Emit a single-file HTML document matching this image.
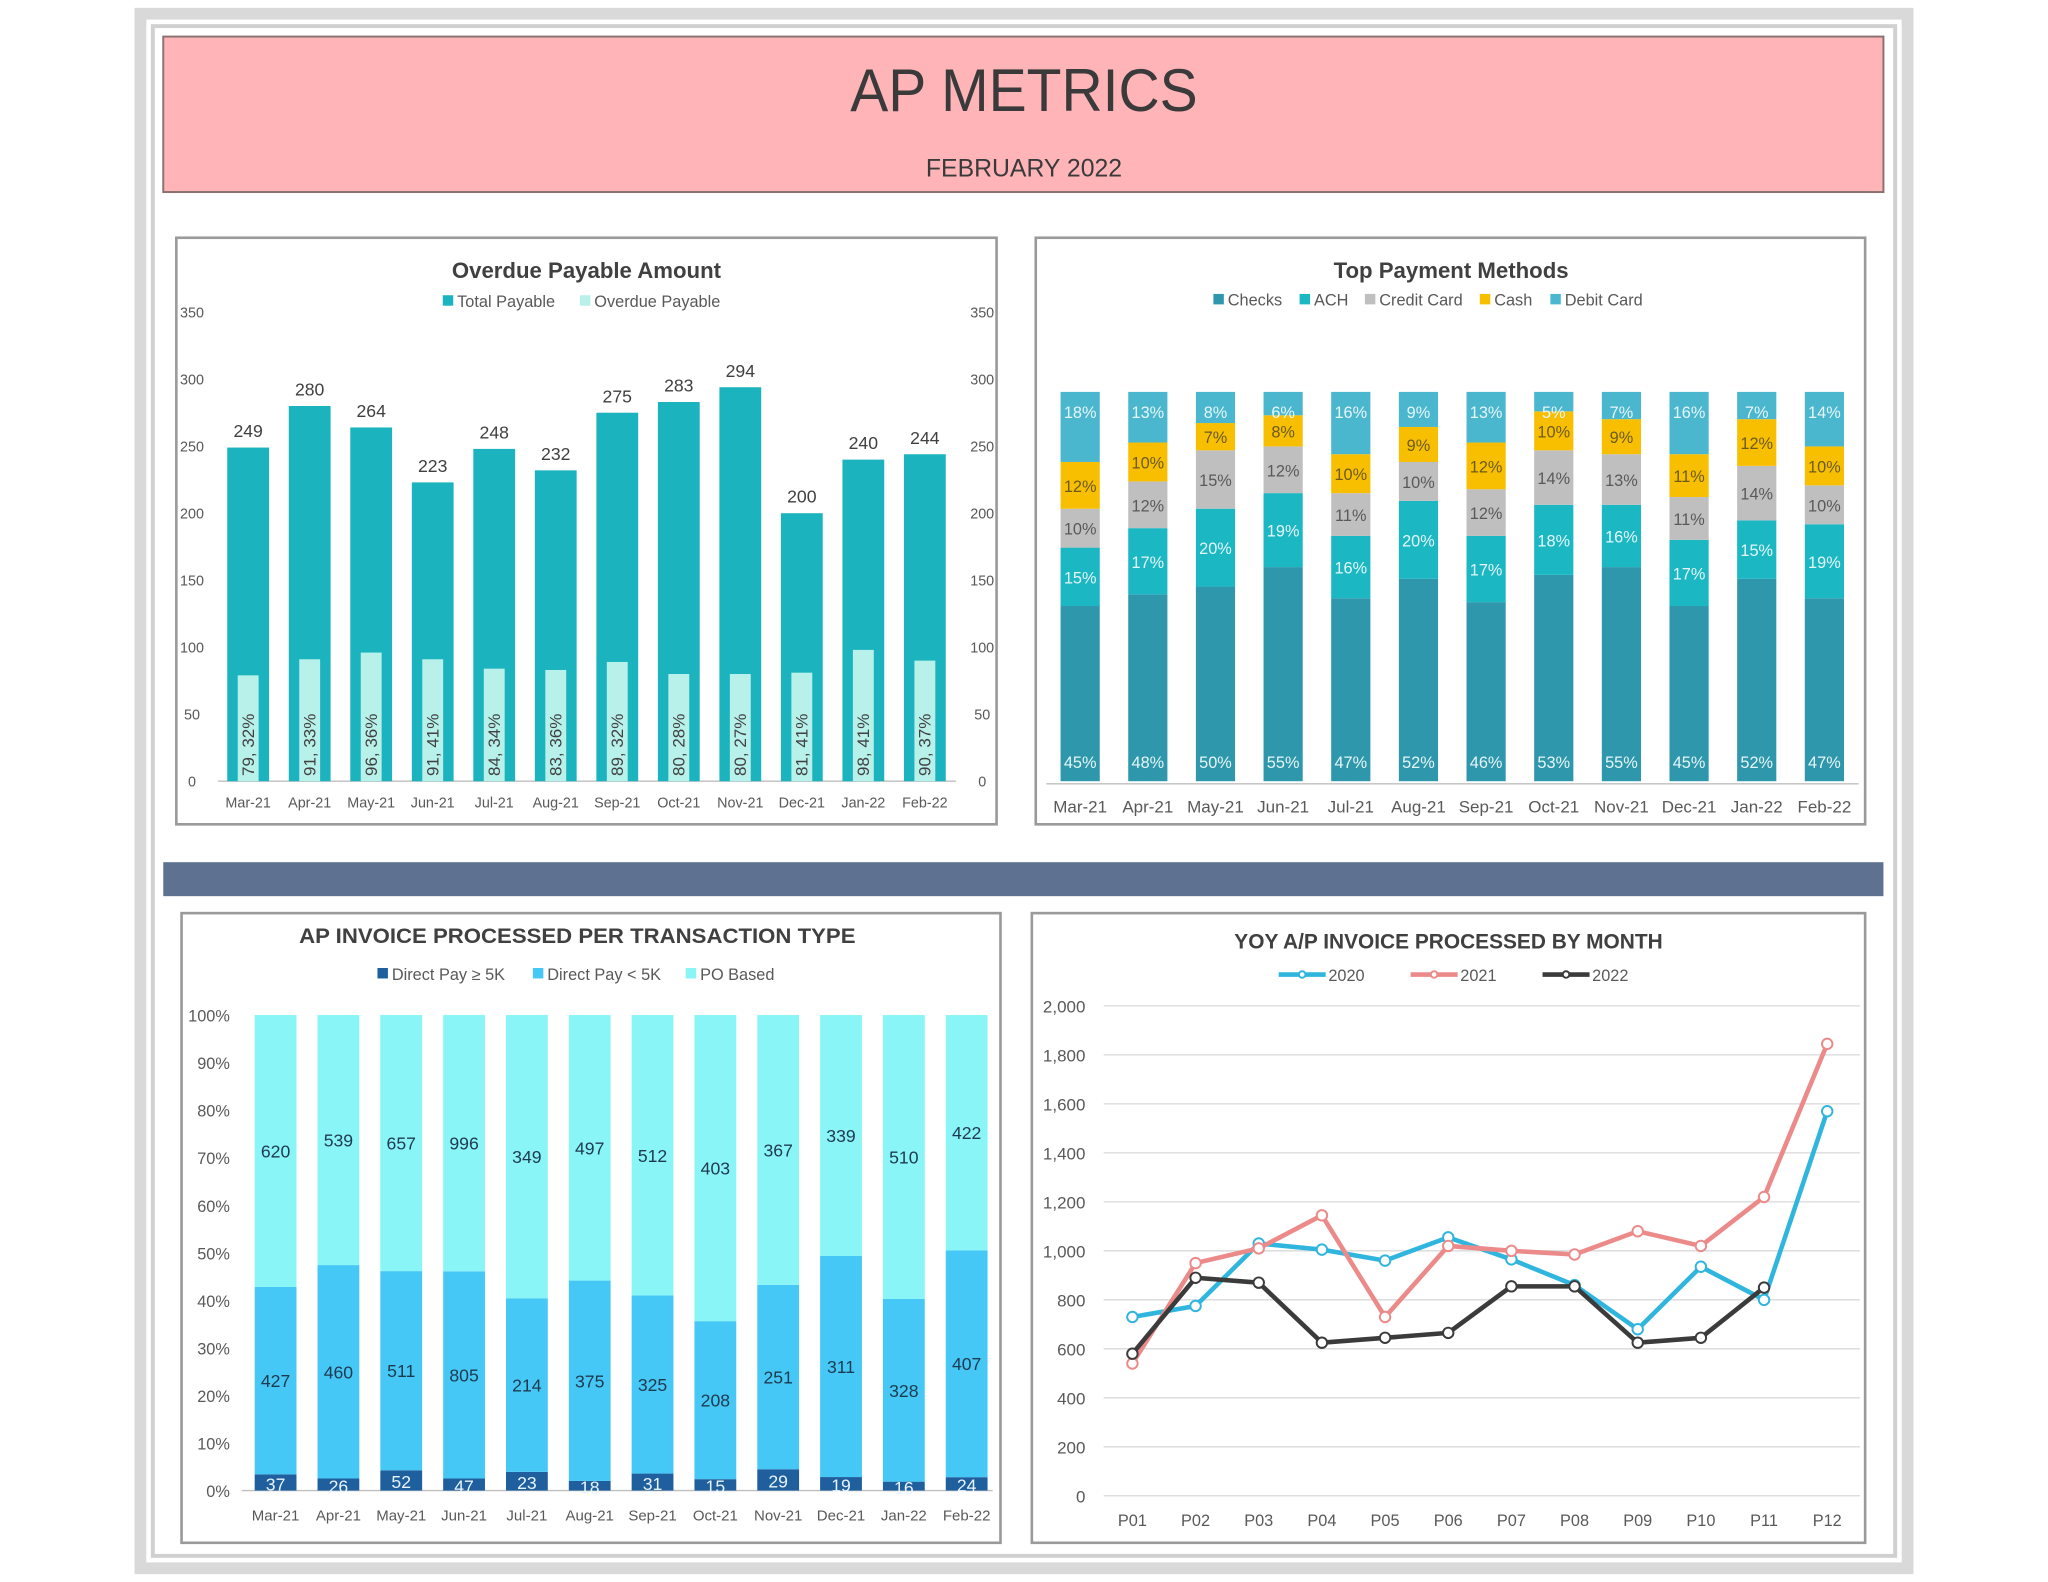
<!DOCTYPE html>
<html><head><meta charset="utf-8"><title>AP Metrics</title>
<style>
html,body{margin:0;padding:0;background:#fff;}
svg{display:block;font-family:"Liberation Sans",sans-serif;}
</style></head>
<body>
<svg id="root" width="2048" height="1582" viewBox="0 0 1568 1211" preserveAspectRatio="none" xmlns="http://www.w3.org/2000/svg">
  <rect x="103" y="6" width="1362" height="1199" fill="#d9d9d9"/>
  <rect x="112" y="15" width="1344" height="1181" fill="#ffffff"/>
  <rect x="117" y="20" width="1334" height="1171" fill="#ffffff" stroke="#d0d0d0" stroke-width="3"/>
  <rect x="125" y="28" width="1317" height="119" fill="#ffb5b8" stroke="#8a7070" stroke-width="1.5"/>
  <text x="784" y="85" text-anchor="middle" font-size="46" fill="#3a3a3a" textLength="266" lengthAdjust="spacingAndGlyphs">AP METRICS</text>
  <text x="784" y="135" text-anchor="middle" font-size="19" fill="#3a3a3a">FEBRUARY 2022</text>
  <rect x="125" y="660" width="1317" height="26" fill="#5e7190"/>

  <rect x="135" y="182" width="628" height="449" fill="#fff" stroke="#9a9a9a" stroke-width="2"/>
  <rect x="793" y="182" width="635" height="449" fill="#fff" stroke="#9a9a9a" stroke-width="2"/>
  <rect x="139" y="699" width="627" height="482" fill="#fff" stroke="#9a9a9a" stroke-width="2"/>
  <rect x="790" y="699" width="638" height="482" fill="#fff" stroke="#9a9a9a" stroke-width="2"/>

  <g id="c1"></g><g id="c2"></g><g id="c3"></g><g id="c4"></g>
</svg>
<script>
const months = ["Mar-21","Apr-21","May-21","Jun-21","Jul-21","Aug-21","Sep-21","Oct-21","Nov-21","Dec-21","Jan-22","Feb-22"];
// Chart 1
const totalPayable = [249,280,264,223,248,232,275,283,294,200,240,244];
const overduePayable = [79,91,96,91,84,83,89,80,80,81,98,90];
const overduePct = [32,33,36,41,34,36,32,28,27,41,41,37];
const c1Ticks = [0,50,100,150,200,250,300,350];
// Chart 2
const checks = [45,48,50,55,47,52,46,53,55,45,52,47];
const ach = [15,17,20,19,16,20,17,18,16,17,15,19];
const creditCard = [10,12,15,12,11,10,12,14,13,11,14,10];
const cash = [12,10,7,8,10,9,12,10,9,11,12,10];
const debitCard = [18,13,8,6,16,9,13,5,7,16,7,14];
// Chart 3
const directPayBig = [37,26,52,47,23,18,31,15,29,19,16,24];
const directPaySmall = [427,460,511,805,214,375,325,208,251,311,328,407];
const poBased = [620,539,657,996,349,497,512,403,367,339,510,422];
const c3Ticks = [0,10,20,30,40,50,60,70,80,90,100];
// Chart 4
const periods = ["P01","P02","P03","P04","P05","P06","P07","P08","P09","P10","P11","P12"];
const y2020 = [730,775,1030,1005,960,1055,965,860,680,935,800,1570];
const y2021 = [540,950,1010,1145,730,1020,1000,985,1080,1020,1220,1845];
const y2022 = [580,890,870,625,645,665,855,855,625,645,850];
const c4Ticks = [0,200,400,600,800,1000,1200,1400,1600,1800,2000];

const NS = "http://www.w3.org/2000/svg";
function el(parent, tag, attrs, text) {
  const e = document.createElementNS(NS, tag);
  for (const k in attrs) e.setAttribute(k, attrs[k]);
  if (text !== undefined) e.textContent = text;
  parent.appendChild(e);
  return e;
}
function legend(g, items, y) {
  items.forEach(it => {
    const r = el(g, "rect", {x: it.x, y: y - 9, width: 8, height: 8, fill: it.c});
    
    
    const t = el(g, "text", {x: it.x + 11, y: y, "font-size": 12.5, fill: "#595959"}, it.t);
    
    
  });
}

// ---------- Chart 1 ----------
(function(){
  const g = document.getElementById("c1");
  const y = v => 598 - v * 359 / 350;
  const x = i => 190 + i * 47.1;
  let t = el(g, "text", {x: 449, y: 213, "text-anchor": "middle", "font-size": 17, "font-weight": "bold", fill: "#404040"}, "Overdue Payable Amount");
  
  
  legend(g, [{x: 339, c: "#1bb3bd", t: "Total Payable"}, {x: 444, c: "#b8f0ea", t: "Overdue Payable"}], 235);
  c1Ticks.forEach(v => {
    const a = el(g, "text", {x: 147, y: y(v) + 4, "text-anchor": "middle", "font-size": 11, fill: "#595959"}, v);
    
    
    const b = el(g, "text", {x: 752, y: y(v) + 4, "text-anchor": "middle", "font-size": 11, fill: "#595959"}, v);
    
    
  });
  const ax = el(g, "line", {x1: 167, x2: 732, y1: 598, y2: 598, stroke: "#bfbfbf", "stroke-width": 1});
  
  
  months.forEach((m, i) => {
    const r = el(g, "rect", {x: x(i) - 16, y: y(totalPayable[i]), width: 32, height: 598 - y(totalPayable[i]), fill: "#1bb3bd"});
    
    
    const o = el(g, "rect", {x: x(i) - 8, y: y(overduePayable[i]), width: 16, height: 598 - y(overduePayable[i]), fill: "#b8f0ea"});
    
    
    const vl = el(g, "text", {x: x(i), y: y(totalPayable[i]) - 8, "text-anchor": "middle", "font-size": 13.5, fill: "#404040"}, totalPayable[i]);
    
    
    const ol = el(g, "text", {x: 0, y: 0, transform: `translate(${x(i) + 4.5},594) rotate(-90)`, "font-size": 13, fill: "#404040"}, overduePayable[i] + ", " + overduePct[i] + "%");
    
    
    const xl = el(g, "text", {x: x(i), y: 618, "text-anchor": "middle", "font-size": 11, fill: "#595959"}, m);
    
    
  });
})();

// ---------- Chart 2 ----------
(function(){
  const g = document.getElementById("c2");
  const x = i => 827 + i * 51.8;
  let t = el(g, "text", {x: 1111, y: 213, "text-anchor": "middle", "font-size": 17, "font-weight": "bold", fill: "#404040"}, "Top Payment Methods");
  
  
  legend(g, [{x: 929, c: "#2e97ac", t: "Checks"}, {x: 995, c: "#1bb8c4", t: "ACH"}, {x: 1045, c: "#bfbfbf", t: "Credit Card"}, {x: 1133, c: "#f7bf00", t: "Cash"}, {x: 1187, c: "#4bb7cf", t: "Debit Card"}], 234);
  const ax = el(g, "line", {x1: 801, x2: 1423, y1: 600, y2: 600, stroke: "#bfbfbf", "stroke-width": 1});
  
  
  const series = [
    {d: checks, c: "#2e97ac", n: "checks-segment"},
    {d: ach, c: "#1bb8c4", n: "ach-segment"},
    {d: creditCard, c: "#bfbfbf", n: "credit-card-segment"},
    {d: cash, c: "#f7bf00", n: "cash-segment"},
    {d: debitCard, c: "#4bb7cf", n: "debit-card-segment"}
  ];
  months.forEach((m, i) => {
    const total = series.reduce((s, se) => s + se.d[i], 0);
    const sc = v => v / total * 298;
    let cum = 0;
    series.forEach((se, k) => {
      const h = sc(se.d[i]);
      const top = 598 - sc(cum) - h;
      const r = el(g, "rect", {x: x(i) - 15, y: top, width: 30, height: h, fill: se.c});
      
      
      const ly = k === 0 ? 588 : (k === 4 ? top + 20 : top + h / 2 + 5);
      const lab = el(g, "text", {x: x(i), y: ly, "text-anchor": "middle", "font-size": 12.5, fill: k === 2 ? "#595959" : (k === 3 ? "#6b5a20" : "#e6f6f8")}, se.d[i] + "%");
      
      
      cum += se.d[i];
    });
    const xl = el(g, "text", {x: x(i), y: 622, "text-anchor": "middle", "font-size": 13, fill: "#595959"}, m);
    
    
  });
})();

// ---------- Chart 3 ----------
(function(){
  const g = document.getElementById("c3");
  const y = p => 1141 - p * 3.64;
  const x = i => 211 + i * 48.1;
  let t = el(g, "text", {x: 442, y: 722, "text-anchor": "middle", "font-size": 16.5, "font-weight": "bold", fill: "#404040", textLength: "426", lengthAdjust: "spacingAndGlyphs"}, "AP INVOICE PROCESSED PER TRANSACTION TYPE");
  
  
  legend(g, [{x: 289, c: "#1f5f9e", t: "Direct Pay ≥ 5K"}, {x: 408, c: "#45c8f5", t: "Direct Pay < 5K"}, {x: 525, c: "#8af5f7", t: "PO Based"}], 750);
  c3Ticks.forEach(v => {
    const a = el(g, "text", {x: 176, y: y(v) + 5, "text-anchor": "end", "font-size": 12.5, fill: "#595959"}, v + "%");
    
    
  });
  const ax = el(g, "line", {x1: 185, x2: 760, y1: 1141, y2: 1141, stroke: "#bfbfbf", "stroke-width": 1});
  
  
  const series = [
    {d: directPayBig, c: "#1f5f9e", n: "direct-pay-5k-plus-segment", tc: "#e8f4ff"},
    {d: directPaySmall, c: "#45c8f5", n: "direct-pay-under-5k-segment", tc: "#1f3a50"},
    {d: poBased, c: "#8af5f7", n: "po-based-segment", tc: "#1f3a50"}
  ];
  months.forEach((m, i) => {
    const total = series.reduce((s, se) => s + se.d[i], 0);
    let cum = 0;
    series.forEach((se, k) => {
      const p0 = cum / total * 100, p1 = (cum + se.d[i]) / total * 100;
      const r = el(g, "rect", {x: x(i) - 16, y: y(p1), width: 32, height: y(p0) - y(p1), fill: se.c});
      
      
      const lab = el(g, "text", {x: x(i), y: (y(p0) + y(p1)) / 2 + (k === 0 ? 6 : 5), "text-anchor": "middle", "font-size": 13.5, fill: se.tc}, se.d[i]);
      
      
      cum += se.d[i];
    });
    const xl = el(g, "text", {x: x(i), y: 1164, "text-anchor": "middle", "font-size": 11.5, fill: "#595959"}, m);
    
    
  });
})();

// ---------- Chart 4 ----------
(function(){
  const g = document.getElementById("c4");
  const y = v => 1145 - v * 0.1875;
  const x = i => 867 + i * 48.36;
  let t = el(g, "text", {x: 1109, y: 726, "text-anchor": "middle", "font-size": 16.5, "font-weight": "bold", fill: "#404040", textLength: "328", lengthAdjust: "spacingAndGlyphs"}, "YOY A/P INVOICE PROCESSED BY MONTH");
  
  
  const series = [
    {d: y2020, c: "#2fb5de", n: "line-2020", t: "2020", lx: 979},
    {d: y2021, c: "#ec8a8a", n: "line-2021", t: "2021", lx: 1080},
    {d: y2022, c: "#3b3b3b", n: "line-2022", t: "2022", lx: 1181}
  ];
  series.forEach(se => {
    const ll = el(g, "line", {x1: se.lx, x2: se.lx + 36, y1: 746, y2: 746, stroke: se.c, "stroke-width": 3.5});
    
    
    const lc = el(g, "circle", {cx: se.lx + 18, cy: 746, r: 2.5, fill: "#fff", stroke: se.c, "stroke-width": 1.5});
    
    
    const lt = el(g, "text", {x: se.lx + 38, y: 751, "font-size": 12.5, fill: "#595959"}, se.t);
    
    
  });
  c4Ticks.forEach(v => {
    const gl = el(g, "line", {x1: 845, x2: 1424, y1: y(v), y2: y(v), stroke: "#d9d9d9", "stroke-width": 1});
    
    
    const a = el(g, "text", {x: 831, y: y(v) + 5, "text-anchor": "end", "font-size": 13, fill: "#595959"}, v.toLocaleString("en-US"));
    
    
  });
  periods.forEach((p, i) => {
    const xl = el(g, "text", {x: x(i), y: 1168, "text-anchor": "middle", "font-size": 12.5, fill: "#595959"}, p);
    
    
  });
  series.forEach(se => {
    const pts = se.d.map((v, i) => x(i) + "," + y(v)).join(" ");
    const pl = el(g, "polyline", {points: pts, fill: "none", stroke: se.c, "stroke-width": 3.5, "stroke-linejoin": "round"});
    
    
    se.d.forEach((v, i) => {
      const c = el(g, "circle", {cx: x(i), cy: y(v), r: 4, fill: "#fff", stroke: se.c, "stroke-width": 1.5});
      
      
    });
  });
})();
</script>
</body></html>
